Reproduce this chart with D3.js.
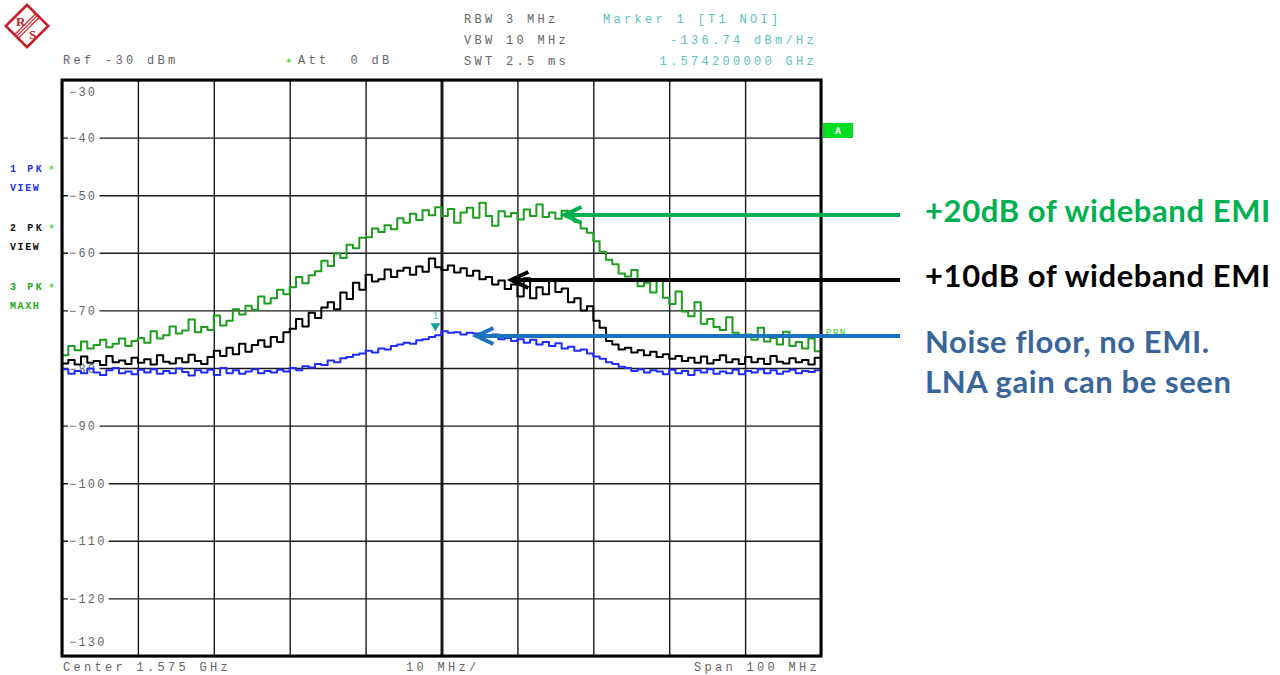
<!DOCTYPE html>
<html><head><meta charset="utf-8">
<script src="https://cdn.jsdelivr.net/npm/d3@7"></script>
<style>
html,body{margin:0;padding:0;background:#fff;}
svg{display:block;}
.mono{font-family:"Liberation Mono","DejaVu Sans Mono",monospace;white-space:pre;}
</style></head>
<body>
<svg id="c" width="1280" height="675"></svg>
<script>
// ---------- data ----------
const freqStartMHz = 1525, freqSpanMHz = 100;
const yTicks = [-30,-40,-50,-60,-70,-80,-90,-100,-110,-120,-130];
const xTicks = [1525,1535,1545,1555,1565,1575,1585,1595,1605,1615,1625];

// Trace 1 (blue, noise floor, no EMI) dBm
const trace1 = [
 -80.2,-81.0,-80.5,-80.9,-80.1,-80.8,-81.2,-80.4,-80.0,-80.9,-80.6,-81.1,
 -80.3,-80.8,-80.2,-81.0,-80.5,-80.9,-80.1,-80.7,-81.3,-80.4,-80.8,-80.3,
 -81.2,-80.0,-80.9,-80.4,-81.0,-80.6,-80.2,-80.9,-80.5,-80.8,-80.3,-80.6,
 -80.0,-80.4,-79.7,-79.9,-79.3,-79.5,-78.7,-79.0,-78.3,-78.1,-77.7,-77.5,
 -77.0,-77.3,-76.6,-76.8,-76.2,-75.9,-75.6,-75.8,-75.2,-75.0,-74.6,-74.3,
 -73.6,-73.9,-73.8,-74.2,-73.9,-74.0,-74.3,-74.6,-74.2,-75.0,-74.8,-75.3,
 -75.0,-75.6,-75.1,-75.9,-75.5,-76.2,-75.7,-76.6,-76.3,-77.0,-76.8,-77.5,
 -78.0,-78.4,-79.0,-79.3,-79.8,-80.0,-80.5,-80.2,-80.8,-80.4,-80.6,-81.1,
 -80.3,-80.9,-80.5,-81.2,-80.4,-80.8,-80.2,-81.0,-80.6,-80.9,-80.3,-81.1,
 -80.5,-80.8,-80.2,-80.9,-80.4,-81.0,-80.6,-80.3,-80.9,-80.5,-80.7,-80.4,-80.8
];
// Trace 2 (black, +10 dB wideband EMI)
const trace2 = [
 -79.2,-78.6,-79.4,-78.0,-79.1,-78.8,-79.5,-77.9,-79.0,-78.7,-79.3,-78.2,
 -79.1,-78.5,-79.4,-77.8,-78.9,-79.2,-78.3,-79.0,-77.7,-78.8,-79.3,-78.1,
 -77.0,-77.9,-76.5,-77.6,-75.8,-77.2,-76.0,-75.2,-76.3,-74.6,-75.5,-73.8,
 -73.2,-71.5,-72.8,-70.4,-71.3,-69.5,-68.6,-69.8,-66.9,-68.0,-65.2,-66.4,
 -63.8,-65.0,-64.6,-62.9,-64.2,-63.1,-62.6,-63.8,-62.4,-63.3,-61.0,-62.5,
 -63.0,-62.2,-63.4,-62.7,-64.0,-63.1,-64.6,-64.2,-65.5,-64.8,-66.3,-65.5,
 -67.6,-64.4,-67.9,-66.0,-67.2,-64.8,-66.8,-66.2,-68.6,-67.9,-70.0,-69.3,
 -71.8,-73.0,-75.3,-75.9,-76.8,-76.5,-77.3,-76.9,-77.8,-77.2,-78.1,-77.6,
 -78.4,-77.9,-78.8,-78.2,-79.1,-78.0,-79.2,-78.6,-77.8,-79.0,-78.5,-79.3,
 -78.1,-79.0,-78.4,-79.3,-77.9,-78.9,-79.2,-78.3,-79.0,-78.6,-79.4,-78.2,-78.9
];
// Trace 3 (green, +20 dB wideband EMI, max hold)
const trace3 = [
 -77.8,-76.2,-76.9,-75.4,-76.6,-76.0,-75.1,-76.4,-75.8,-74.9,-76.2,-75.3,
 -74.8,-75.6,-73.6,-74.9,-74.3,-72.8,-74.0,-73.5,-71.6,-73.8,-72.9,-73.4,
 -70.9,-72.6,-71.8,-69.8,-70.7,-69.2,-69.9,-67.6,-68.8,-67.9,-66.4,-67.2,
 -66.0,-64.2,-65.3,-63.9,-63.2,-61.4,-62.3,-60.1,-60.9,-58.6,-59.2,-57.4,
 -57.3,-55.8,-56.4,-55.2,-55.9,-54.0,-54.8,-53.2,-54.3,-52.6,-53.5,-52.1,
 -53.6,-52.4,-54.8,-53.0,-52.2,-53.9,-51.3,-53.6,-55.3,-52.8,-53.7,-53.1,
 -54.2,-52.5,-53.6,-51.6,-53.8,-53.0,-54.1,-52.7,-53.4,-54.6,-55.8,-56.5,
 -58.0,-59.8,-61.2,-62.0,-63.6,-64.1,-63.0,-65.8,-65.2,-66.9,-64.6,-67.8,
 -68.9,-66.7,-70.2,-71.0,-68.6,-72.3,-71.5,-72.9,-73.4,-71.2,-73.9,-74.4,
 -74.2,-75.1,-73.0,-75.4,-74.8,-75.9,-73.7,-76.2,-75.5,-76.6,-74.9,-77.1,-78.6
];
const marker1 = {freq: 1574.2, level: -73.6, label: "1"};

const headerLeft = ["Ref -30 dBm", "Att  0 dB"];
const headerMid = ["RBW 3 MHz","VBW 10 MHz","SWT 2.5 ms"];
const headerRight = ["Marker 1 [T1 NOI]","-136.74 dBm/Hz","1.574200000 GHz"];
const footer = ["Center 1.575 GHz","10 MHz/","Span 100 MHz"];
const traceLabels = [["1 PK","VIEW"],["2 PK","VIEW"],["3 PK","MAXH"]];
const annotations = ["+20dB of wideband EMI","+10dB of wideband EMI","Noise floor, no EMI.","LNA gain can be seen"];
const annotationLevels = [-53.5, -64.7, -74.5];  // arrow levels in dBm
const arrowTipFreq = [1591.2, 1584.2, 1579.6];

// ---------- layout ----------
const svg = d3.select("#c");
const L = 62, R = 821, T = 80, B = 656;
const x = d3.scaleLinear().domain([freqStartMHz, freqStartMHz+freqSpanMHz]).range([L, R]);
const y = d3.scaleLinear().domain([-130, -30]).range([B, T]);
const gray = "#666";
const monoSpacing = 3.3;

// logo
const red = "#c8202a";
const logo = svg.append("g").attr("transform","translate(27,26) rotate(45)");
logo.append("rect").attr("x",-15).attr("y",-15).attr("width",30).attr("height",30)
  .attr("fill","none").attr("stroke",red).attr("stroke-width",2.6);
[-2.6,0,2.6].forEach(d=>logo.append("line").attr("x1",d).attr("x2",d).attr("y1",-15).attr("y2",15)
  .attr("stroke",red).attr("stroke-width",1.2));
svg.append("text").attr("x",16).attr("y",26).attr("font-family","Liberation Serif").attr("font-size",13)
  .attr("font-weight","bold").attr("fill",red).text("R");
svg.append("text").attr("x",29).attr("y",39).attr("font-family","Liberation Serif").attr("font-size",13)
  .attr("font-weight","bold").attr("fill",red).text("S");

// header texts
function mono(sel, txt, xx, yy, col, anchor, size, ls){
  return sel.append("text").attr("class","mono").attr("x",xx).attr("y",yy)
   .attr("font-size",size||12).attr("fill",col).attr("letter-spacing",ls===undefined?monoSpacing:ls)
   .attr("text-anchor",anchor||"start").text(txt);
}
mono(svg, headerLeft[0], 63, 64, gray);
svg.append("text").attr("x",286).attr("y",66).attr("font-size",11).attr("fill","#22cc22").attr("font-family","DejaVu Sans").text("*");
mono(svg, headerLeft[1], 298, 64, gray);
headerMid.forEach((t,i)=>mono(svg, t, 464, 23+i*21, gray));
mono(svg, headerRight[0], 603, 23, "#5cc2c0");
mono(svg, headerRight[1], 817, 44, "#5cc2c0", "end");
mono(svg, headerRight[2], 817, 65, "#5cc2c0", "end");

// left trace labels
const tlColors = ["#2233ee","#111","#22aa22"];
traceLabels.forEach((p,i)=>{
  const yy = 172 + i*59;
  svg.append("text").attr("class","mono").attr("x",10).attr("y",yy).attr("font-size",10).attr("font-weight","bold")
    .attr("letter-spacing",2.6).attr("fill",tlColors[i]).text(p[0]);
  svg.append("text").attr("x",49).attr("y",yy+1).attr("font-size",10).attr("fill","#22cc22").attr("font-family","DejaVu Sans").text("*");
  svg.append("text").attr("class","mono").attr("x",10).attr("y",yy+19).attr("font-size",10).attr("font-weight","bold")
    .attr("letter-spacing",1.6).attr("fill",tlColors[i]).text(p[1]);
});

// grid via axes
const gGridY = svg.append("g").attr("transform",`translate(${L},0)`)
  .call(d3.axisRight(y).tickValues(yTicks).tickSize(R-L).tickFormat(""));
gGridY.select(".domain").remove();
gGridY.selectAll("line").attr("stroke","#1a1a1a").attr("stroke-width",1.4);
const gGridX = svg.append("g").attr("transform",`translate(0,${T})`)
  .call(d3.axisBottom(x).tickValues(xTicks).tickSize(B-T).tickFormat(""));
gGridX.select(".domain").remove();
gGridX.selectAll("line").attr("stroke","#1a1a1a").attr("stroke-width",d=>d===1575?3:1.4);

// y tick labels inside plot
yTicks.forEach(v=>{
  let yy = y(v);
  if (v===-30) yy += 11;
  if (v===-130) yy -= 15;
  const s = String(v).replace("-","\u2212");
  const w = s.length*9.2 + 4;
  if (v!==-30 && v!==-130)
    svg.append("rect").attr("x",68).attr("y",yy-4).attr("width",w).attr("height",8).attr("fill","#fff");
  mono(svg, s, 69, yy+4.5, gray, "start", 12, 2.2);
});

// traces
const line = d3.line().x((d,i)=>x(freqStartMHz + i*freqSpanMHz/(d.n-1))).y(d=>y(d.v)).curve(d3.curveStepAfter);
svg.append("clipPath").attr("id","pc").append("rect").attr("x",L).attr("y",T).attr("width",R-L).attr("height",B-T);
const traces = [[trace3,"#1e9e1e"],[trace2,"#000"],[trace1,"#1f2cff"]];
traces.forEach(([arr,col])=>{
  const d = arr.map(v=>({v, n: arr.length}));
  svg.append("path").attr("d",line(d)).attr("fill","none").attr("stroke",col)
     .attr("stroke-width",2).attr("stroke-linejoin","round").attr("clip-path","url(#pc)");
});

// marker 1
const mx = x(marker1.freq), my = y(marker1.level);
svg.append("path").attr("d",`M${mx-5},${my-8}L${mx+5},${my-8}L${mx},${my}Z`).attr("fill","#1aa0a0");
svg.append("text").attr("class","mono").attr("x",mx).attr("y",my-12).attr("font-size",10).attr("text-anchor","middle").attr("fill","#5cc2c0").text(marker1.label);

// frame
svg.append("rect").attr("x",L).attr("y",T).attr("width",R-L).attr("height",B-T)
   .attr("fill","none").attr("stroke","#000").attr("stroke-width",3);

// A box and PRN
svg.append("rect").attr("x",823).attr("y",123).attr("width",30).attr("height",15).attr("fill","#00dd22");
svg.append("text").attr("class","mono").attr("x",838).attr("y",134).attr("font-size",10).attr("font-weight","bold").attr("text-anchor","middle").attr("fill","#fff").text("A");
svg.append("text").attr("class","mono").attr("x",826).attr("y",335).attr("font-size",9).attr("letter-spacing",1.5).attr("fill","#22cc22").text("PRN");

// footer
mono(svg, footer[0], 63, 671, gray);
mono(svg, footer[1], 406, 671, gray);
mono(svg, footer[2], 820, 671, gray, "end");

// annotation arrows
const arrowCols = ["#00b050","#000000","#1a74bd"];
annotationLevels.forEach((lv,i)=>{
  const yy = Math.round(y(lv)), tx = x(arrowTipFreq[i]);
  svg.append("line").attr("x1",tx+2).attr("x2",900).attr("y1",yy).attr("y2",yy).attr("stroke",arrowCols[i]).attr("stroke-width",4);
  svg.append("path").attr("d",`M${tx+17},${yy-8}L${tx},${yy}L${tx+17},${yy+8}`).attr("fill","none")
    .attr("stroke",arrowCols[i]).attr("stroke-width",4).attr("stroke-linejoin","miter");
});

// annotation texts
const annCols = ["#00b050","#000000","#3a6599","#3a6599"];
const annY = [222, 287, 353, 393];
annotations.forEach((t,i)=>{
  svg.append("text").attr("x",925).attr("y",annY[i]).attr("font-family","Lato, 'Open Sans', sans-serif")
    .attr("font-weight","bold").attr("font-size",31).attr("letter-spacing",0.6).attr("fill",annCols[i]).text(t);
});
</script>
</body></html>
